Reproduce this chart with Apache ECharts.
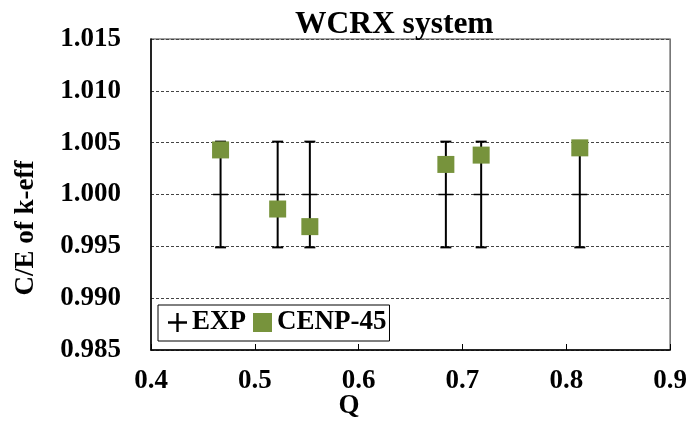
<!DOCTYPE html>
<html>
<head>
<meta charset="utf-8">
<script src="https://cdn.jsdelivr.net/npm/echarts@6/dist/echarts.min.js"></script>
<style>
html, body { margin: 0; padding: 0; background: #fff; }
#chart { width: 690px; height: 424px; }
</style>
</head>
<body>
<div id="chart"></div>
<script>
// Q values of the benchmark cases
var qValues = [0.467, 0.522, 0.553, 0.684, 0.718, 0.813];
// experiment (normalised to 1) and its uncertainty
var expValues = [1.000, 1.000, 1.000, 1.000, 1.000, 1.000];
var expErrors = [0.0051, 0.0051, 0.0051, 0.0051, 0.0051, 0.0051];
// CENP-45 C/E
var cenpValues = [1.0043, 0.9986, 0.9969, 1.0029, 1.0038, 1.0045];
var xTicks = [0.4, 0.5, 0.6, 0.7, 0.8, 0.9];
var yTicks = [0.985, 0.990, 0.995, 1.000, 1.005, 1.010, 1.015];

var FONT = '"Liberation Serif", "DejaVu Serif", serif';

var expData = [];
var cenpData = [];
for (var i = 0; i < qValues.length; i++) {
	expData.push([qValues[i], expValues[i], expErrors[i]]);
	cenpData.push([qValues[i], cenpValues[i]]);
}

// error bar with caps and a "+" at the centre
function renderErrBar(params, api) {
	var x = api.value(0), y = api.value(1), e = api.value(2);
	var top = api.coord([x, y + e]);
	var bot = api.coord([x, y - e]);
	var mid = api.coord([x, y]);
	var st = { stroke: '#000', lineWidth: 2 };
	var cap = 5.5;
	return {
		type: 'group',
		children: [
			{ type: 'line', shape: { x1: top[0], y1: top[1], x2: bot[0], y2: bot[1] }, style: st },
			{ type: 'line', shape: { x1: top[0] - cap, y1: top[1], x2: top[0] + cap, y2: top[1] }, style: st },
			{ type: 'line', shape: { x1: bot[0] - cap, y1: bot[1], x2: bot[0] + cap, y2: bot[1] }, style: st },
			{ type: 'line', shape: { x1: mid[0] - 7.5, y1: mid[1], x2: mid[0] + 7.5, y2: mid[1] }, style: { stroke: '#000', lineWidth: 1.5 } }
		]
	};
}

var myChart = echarts.init(document.getElementById('chart'));
var option = {
	animation: false,
	title: {
		text: 'WCRX system',
		left: 290,
		top: 4,
		textStyle: { fontFamily: FONT, fontSize: 31.5, fontWeight: 'bold', color: '#000' }
	},
	grid: {
		left: 151, right: 19, top: 39, bottom: 74,
		show: true, borderColor: '#444', borderWidth: 1.2
	},
	legend: {
		left: 158, top: 305,
		padding: [4, 3, 5, 10],
		itemGap: 7,
		itemWidth: 19, itemHeight: 19,
		backgroundColor: '#fff',
		borderColor: '#000', borderWidth: 1,
		textStyle: { fontFamily: FONT, fontSize: 27, fontWeight: 'bold', color: '#000' },
		data: [
			{ name: 'EXP', icon: 'path://M7,0h2v7h7v2h-7v7h-2v-7h-7v-2h7z' },
			{ name: 'CENP-45', icon: 'rect' }
		]
	},
	xAxis: {
		type: 'value',
		min: 0.4, max: 0.9, interval: 0.1,
		axisLine: { show: true, lineStyle: { color: '#000', width: 1.5 } },
		axisTick: { show: true, inside: true, length: 6, lineStyle: { color: '#000' } },
		splitLine: { show: false },
		axisLabel: {
			margin: 18,
			showMaxLabel: true, showMinLabel: true,
			fontFamily: FONT, fontSize: 27, fontWeight: 'bold', color: '#000',
			formatter: function(v) { return v.toFixed(1); }
		}
	},
	yAxis: {
		type: 'value',
		min: 0.985, max: 1.015, interval: 0.005,
		axisLine: { show: true, lineStyle: { color: '#000', width: 1.5 } },
		axisTick: { show: false },
		splitLine: { show: true, lineStyle: { color: '#444', type: [3, 2], width: 1 } },
		axisLabel: {
			margin: 30,
			fontFamily: FONT, fontSize: 27, fontWeight: 'bold', color: '#000',
			formatter: function(v) { return v.toFixed(3); }
		}
	},
	graphic: [
		{
			type: 'text', x: 26, y: 228, rotation: Math.PI / 2,
			style: { text: 'C/E of k-eff', fontFamily: FONT, fontSize: 27, fontWeight: 'bold', fill: '#000', align: 'center', verticalAlign: 'middle' }
		},
		{
			type: 'text', x: 349, y: 406,
			style: { text: 'Q', fontFamily: FONT, fontSize: 27, fontWeight: 'bold', fill: '#000', align: 'center', verticalAlign: 'middle' }
		}
	],
	series: [
		{
			name: 'EXP',
			type: 'custom',
			renderItem: renderErrBar,
			itemStyle: { color: '#000' },
			encode: { x: 0, y: 1 },
			data: expData,
			z: 2
		},
		{
			name: 'CENP-45',
			type: 'scatter',
			symbol: 'rect',
			symbolSize: 17,
			itemStyle: { color: '#77933C', opacity: 1 },
			data: cenpData,
			z: 3
		}
	]
};
myChart.setOption(option);
</script>
</body>
</html>
